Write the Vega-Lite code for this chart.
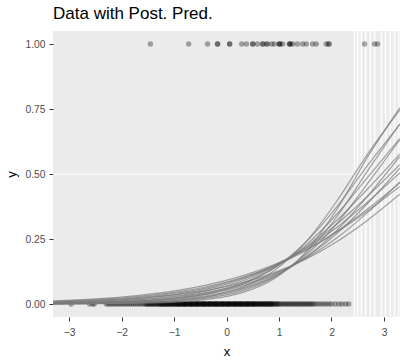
{
  "$schema": "https://vega.github.io/schema/vega-lite/v6.json",
  "width": 347,
  "height": 286,
  "autosize": {"type": "none"},
  "padding": {"left": 53, "top": 31, "right": 8, "bottom": 43},
  "background": "white",
  "config": {
    "view": {"fill": "#ebebeb", "stroke": null},
    "axis": {
      "grid": false, "domain": false, "tickColor": "#333333", "tickSize": 4,
      "labelColor": "#4d4d4d", "labelFont": "Liberation Sans", "labelFontSize": 10.3,
      "titleFont": "Liberation Sans", "titleFontSize": 13, "titleFontWeight": "normal", "titleColor": "black"
    }
  },
  "title": {"text": "Data with Post. Pred.", "anchor": "start", "frame": "group", "font": "Liberation Sans", "fontSize": 17, "fontWeight": "normal", "color": "black", "offset": 8},
  "datasets": {
    "hline": [{"x": -3.305, "x2": 2.44, "y": 0.5}],
    "thr": [{"t": 2.44}, {"t": 2.50}, {"t": 2.57}, {"t": 2.65}, {"t": 2.74}, {"t": 2.82}, {"t": 2.95}, {"t": 3.03}, {"t": 3.12}, {"t": 3.20}, {"t": 3.28}],
    "curves": [
      {"c":1,"x":-3.3,"y":0.00077},{"c":1,"x":-2.5,"y":0.00208},{"c":1,"x":-1.7,"y":0.00562},{"c":1,"x":-0.9,"y":0.0152},{"c":1,"x":-0.3,"y":0.0315},{"c":1,"x":0.3,"y":0.0645},{"c":1,"x":0.9,"y":0.1273},{"c":1,"x":1.5,"y":0.2360},{"c":1,"x":2.1,"y":0.3953},{"c":1,"x":2.7,"y":0.5805},{"c":1,"x":3.3,"y":0.7456},
      {"c":2,"x":-3.3,"y":0.0003},{"c":2,"x":-2.5,"y":0.00091},{"c":2,"x":-1.7,"y":0.00279},{"c":2,"x":-0.9,"y":0.0085},{"c":2,"x":-0.3,"y":0.0195},{"c":2,"x":0.3,"y":0.0439},{"c":2,"x":0.9,"y":0.0962},{"c":2,"x":1.5,"y":0.1978},{"c":2,"x":2.1,"y":0.3635},{"c":2,"x":2.7,"y":0.5695},{"c":2,"x":3.3,"y":0.7540},
      {"c":3,"x":-3.3,"y":0.00157},{"c":3,"x":-2.5,"y":0.00377},{"c":3,"x":-1.7,"y":0.0090},{"c":3,"x":-0.9,"y":0.0215},{"c":3,"x":-0.3,"y":0.0408},{"c":3,"x":0.3,"y":0.0761},{"c":3,"x":0.9,"y":0.1374},{"c":3,"x":1.5,"y":0.2356},{"c":3,"x":2.1,"y":0.3736},{"c":3,"x":2.7,"y":0.5357},{"c":3,"x":3.3,"y":0.6906},
      {"c":4,"x":-3.3,"y":0.00059},{"c":4,"x":-2.5,"y":0.0016},{"c":4,"x":-1.7,"y":0.00433},{"c":4,"x":-0.9,"y":0.0117},{"c":4,"x":-0.3,"y":0.0244},{"c":4,"x":0.3,"y":0.0503},{"c":4,"x":0.9,"y":0.1009},{"c":4,"x":1.5,"y":0.1919},{"c":4,"x":2.1,"y":0.3346},{"c":4,"x":2.7,"y":0.5156},{"c":4,"x":3.3,"y":0.6927},
      {"c":5,"x":-3.3,"y":0.00238},{"c":5,"x":-2.5,"y":0.00527},{"c":5,"x":-1.7,"y":0.0117},{"c":5,"x":-0.9,"y":0.0256},{"c":5,"x":-0.3,"y":0.0456},{"c":5,"x":0.3,"y":0.0802},{"c":5,"x":0.9,"y":0.1370},{"c":5,"x":1.5,"y":0.2244},{"c":5,"x":2.1,"y":0.3452},{"c":5,"x":2.7,"y":0.4900},{"c":5,"x":3.3,"y":0.6365},
      {"c":6,"x":-3.3,"y":0.00105},{"c":6,"x":-2.5,"y":0.00258},{"c":6,"x":-1.7,"y":0.00629},{"c":6,"x":-0.9,"y":0.0153},{"c":6,"x":-0.3,"y":0.0295},{"c":6,"x":0.3,"y":0.0561},{"c":6,"x":0.9,"y":0.1043},{"c":6,"x":1.5,"y":0.1857},{"c":6,"x":2.1,"y":0.3087},{"c":6,"x":2.7,"y":0.4666},{"c":6,"x":3.3,"y":0.6313},
      {"c":7,"x":-3.3,"y":0.00407},{"c":7,"x":-2.5,"y":0.0082},{"c":7,"x":-1.7,"y":0.0164},{"c":7,"x":-0.9,"y":0.0327},{"c":7,"x":-0.3,"y":0.0542},{"c":7,"x":0.3,"y":0.0885},{"c":7,"x":0.9,"y":0.1414},{"c":7,"x":1.5,"y":0.2182},{"c":7,"x":2.1,"y":0.3212},{"c":7,"x":2.7,"y":0.4452},{"c":7,"x":3.3,"y":0.5764},
      {"c":8,"x":-3.3,"y":0.00178},{"c":8,"x":-2.5,"y":0.00395},{"c":8,"x":-1.7,"y":0.0087},{"c":8,"x":-0.9,"y":0.0193},{"c":8,"x":-0.3,"y":0.0346},{"c":8,"x":0.3,"y":0.0612},{"c":8,"x":0.9,"y":0.1062},{"c":8,"x":1.5,"y":0.1780},{"c":8,"x":2.1,"y":0.2829},{"c":8,"x":2.7,"y":0.4182},{"c":8,"x":3.3,"y":0.5671},
      {"c":9,"x":-3.3,"y":0.00585},{"c":9,"x":-2.5,"y":0.0110},{"c":9,"x":-1.7,"y":0.0207},{"c":9,"x":-0.9,"y":0.0386},{"c":9,"x":-0.3,"y":0.0609},{"c":9,"x":0.3,"y":0.0948},{"c":9,"x":0.9,"y":0.1448},{"c":9,"x":1.5,"y":0.2148},{"c":9,"x":2.1,"y":0.3066},{"c":9,"x":2.7,"y":0.4168},{"c":9,"x":3.3,"y":0.5359},
      {"c":10,"x":-3.3,"y":0.00287},{"c":10,"x":-2.5,"y":0.00588},{"c":10,"x":-1.7,"y":0.0120},{"c":10,"x":-0.9,"y":0.0244},{"c":10,"x":-0.3,"y":0.0411},{"c":10,"x":0.3,"y":0.0685},{"c":10,"x":0.9,"y":0.1120},{"c":10,"x":1.5,"y":0.1780},{"c":10,"x":2.1,"y":0.2709},{"c":10,"x":2.7,"y":0.3894},{"c":10,"x":3.3,"y":0.5225},
      {"c":11,"x":-3.3,"y":0.00762},{"c":11,"x":-2.5,"y":0.0137},{"c":11,"x":-1.7,"y":0.0245},{"c":11,"x":-0.9,"y":0.0434},{"c":11,"x":-0.3,"y":0.0660},{"c":11,"x":0.3,"y":0.0993},{"c":11,"x":0.9,"y":0.1467},{"c":11,"x":1.5,"y":0.2113},{"c":11,"x":2.1,"y":0.2946},{"c":11,"x":2.7,"y":0.3944},{"c":11,"x":3.3,"y":0.5037},
      {"c":12,"x":-3.3,"y":0.00450},{"c":12,"x":-2.5,"y":0.0085},{"c":12,"x":-1.7,"y":0.0160},{"c":12,"x":-0.9,"y":0.0299},{"c":12,"x":-0.3,"y":0.0474},{"c":12,"x":0.3,"y":0.0745},{"c":12,"x":0.9,"y":0.1151},{"c":12,"x":1.5,"y":0.1737},{"c":12,"x":2.1,"y":0.2535},{"c":12,"x":2.7,"y":0.3543},{"c":12,"x":3.3,"y":0.4700},
      {"c":13,"x":-3.3,"y":0.0119},{"c":13,"x":-2.5,"y":0.0198},{"c":13,"x":-1.7,"y":0.0325},{"c":13,"x":-0.9,"y":0.0532},{"c":13,"x":-0.3,"y":0.0762},{"c":13,"x":0.3,"y":0.1079},{"c":13,"x":0.9,"y":0.1509},{"c":13,"x":1.5,"y":0.2069},{"c":13,"x":2.1,"y":0.2769},{"c":13,"x":2.7,"y":0.3598},{"c":13,"x":3.3,"y":0.4521},
      {"c":14,"x":-3.3,"y":0.00714},{"c":14,"x":-2.5,"y":0.0124},{"c":14,"x":-1.7,"y":0.0216},{"c":14,"x":-0.9,"y":0.0371},{"c":14,"x":-0.3,"y":0.0555},{"c":14,"x":0.3,"y":0.0820},{"c":14,"x":0.9,"y":0.1197},{"c":14,"x":1.5,"y":0.1715},{"c":14,"x":2.1,"y":0.2396},{"c":14,"x":2.7,"y":0.3241},{"c":14,"x":3.3,"y":0.4219},
      {"c":15,"x":-3.3,"y":0.0097},{"c":15,"x":-2.5,"y":0.0166},{"c":15,"x":-1.7,"y":0.0283},{"c":15,"x":-0.9,"y":0.0478},{"c":15,"x":-0.3,"y":0.0702},{"c":15,"x":0.3,"y":0.1019},{"c":15,"x":0.9,"y":0.1458},{"c":15,"x":1.5,"y":0.2042},{"c":15,"x":2.1,"y":0.2785},{"c":15,"x":2.7,"y":0.3673},{"c":15,"x":3.3,"y":0.4660}
    ],
    "pts": [
      {"x":-1.45,"y":1},{"x":-0.72,"y":1},{"x":-0.36,"y":1},{"x":-0.17,"y":1},{"x":-0.17,"y":1},{"x":0.06,"y":1},{"x":0.06,"y":1},{"x":0.29,"y":1},{"x":0.38,"y":1},{"x":0.50,"y":1},{"x":0.50,"y":1},{"x":0.59,"y":1},{"x":0.69,"y":1},{"x":0.69,"y":1},{"x":0.76,"y":1},{"x":0.78,"y":1},{"x":0.86,"y":1},{"x":0.91,"y":1},{"x":1.00,"y":1},{"x":1.01,"y":1},{"x":1.02,"y":1},{"x":1.07,"y":1},{"x":1.20,"y":1},{"x":1.20,"y":1},{"x":1.22,"y":1},{"x":1.26,"y":1},{"x":1.35,"y":1},{"x":1.45,"y":1},{"x":1.52,"y":1},{"x":1.64,"y":1},{"x":1.71,"y":1},{"x":1.90,"y":1},{"x":1.94,"y":1},{"x":1.96,"y":1},{"x":2.63,"y":1},{"x":2.82,"y":1},{"x":2.88,"y":1},
      {"x":-2.96,"y":0},{"x":-2.61,"y":0},{"x":-2.55,"y":0},{"x":-2.52,"y":0},
      {"x":-2.29,"y":0},{"x":-2.25,"y":0},{"x":-2.21,"y":0},{"x":-2.17,"y":0},{"x":-2.13,"y":0},{"x":-2.09,"y":0},{"x":-2.05,"y":0},{"x":-2.01,"y":0},{"x":-1.97,"y":0},{"x":-1.93,"y":0},{"x":-1.89,"y":0},{"x":-1.85,"y":0},{"x":-1.81,"y":0},{"x":-1.77,"y":0},{"x":-1.73,"y":0},{"x":-1.69,"y":0},{"x":-1.65,"y":0},{"x":-1.61,"y":0},{"x":-1.57,"y":0},
      {"x":-1.54,"y":0},{"x":-1.52,"y":0},{"x":-1.50,"y":0},{"x":-1.48,"y":0},{"x":-1.46,"y":0},{"x":-1.44,"y":0},{"x":-1.42,"y":0},{"x":-1.40,"y":0},{"x":-1.38,"y":0},{"x":-1.36,"y":0},{"x":-1.34,"y":0},{"x":-1.32,"y":0},{"x":-1.30,"y":0},{"x":-1.28,"y":0},{"x":-1.26,"y":0},{"x":-1.24,"y":0},{"x":-1.22,"y":0},{"x":-1.20,"y":0},{"x":-1.18,"y":0},{"x":-1.16,"y":0},{"x":-1.14,"y":0},{"x":-1.12,"y":0},{"x":-1.10,"y":0},{"x":-1.08,"y":0},{"x":-1.06,"y":0},{"x":-1.04,"y":0},{"x":-1.02,"y":0},{"x":-1.00,"y":0},
      {"x":-0.98,"y":0},{"x":-0.96,"y":0},{"x":-0.94,"y":0},{"x":-0.92,"y":0},{"x":-0.90,"y":0},{"x":-0.88,"y":0},{"x":-0.86,"y":0},{"x":-0.84,"y":0},{"x":-0.82,"y":0},{"x":-0.80,"y":0},{"x":-0.78,"y":0},{"x":-0.76,"y":0},{"x":-0.74,"y":0},{"x":-0.72,"y":0},{"x":-0.70,"y":0},{"x":-0.68,"y":0},{"x":-0.66,"y":0},{"x":-0.64,"y":0},{"x":-0.62,"y":0},{"x":-0.60,"y":0},{"x":-0.58,"y":0},{"x":-0.56,"y":0},{"x":-0.54,"y":0},{"x":-0.52,"y":0},{"x":-0.50,"y":0},
      {"x":-0.48,"y":0},{"x":-0.46,"y":0},{"x":-0.44,"y":0},{"x":-0.42,"y":0},{"x":-0.40,"y":0},{"x":-0.38,"y":0},{"x":-0.36,"y":0},{"x":-0.34,"y":0},{"x":-0.32,"y":0},{"x":-0.30,"y":0},{"x":-0.28,"y":0},{"x":-0.26,"y":0},{"x":-0.24,"y":0},{"x":-0.22,"y":0},{"x":-0.20,"y":0},{"x":-0.18,"y":0},{"x":-0.16,"y":0},{"x":-0.14,"y":0},{"x":-0.12,"y":0},{"x":-0.10,"y":0},{"x":-0.08,"y":0},{"x":-0.06,"y":0},{"x":-0.04,"y":0},{"x":-0.02,"y":0},{"x":0.00,"y":0},
      {"x":0.02,"y":0},{"x":0.04,"y":0},{"x":0.06,"y":0},{"x":0.08,"y":0},{"x":0.10,"y":0},{"x":0.12,"y":0},{"x":0.14,"y":0},{"x":0.16,"y":0},{"x":0.18,"y":0},{"x":0.20,"y":0},{"x":0.22,"y":0},{"x":0.24,"y":0},{"x":0.26,"y":0},{"x":0.28,"y":0},{"x":0.30,"y":0},{"x":0.32,"y":0},{"x":0.34,"y":0},{"x":0.36,"y":0},{"x":0.38,"y":0},{"x":0.40,"y":0},{"x":0.42,"y":0},{"x":0.44,"y":0},{"x":0.46,"y":0},{"x":0.48,"y":0},{"x":0.50,"y":0},
      {"x":0.52,"y":0},{"x":0.54,"y":0},{"x":0.56,"y":0},{"x":0.58,"y":0},{"x":0.60,"y":0},{"x":0.62,"y":0},{"x":0.64,"y":0},{"x":0.66,"y":0},{"x":0.68,"y":0},{"x":0.70,"y":0},{"x":0.72,"y":0},{"x":0.74,"y":0},{"x":0.76,"y":0},{"x":0.78,"y":0},{"x":0.80,"y":0},{"x":0.82,"y":0},{"x":0.84,"y":0},{"x":0.86,"y":0},{"x":0.88,"y":0},{"x":0.90,"y":0},{"x":0.92,"y":0},{"x":0.94,"y":0},{"x":0.96,"y":0},{"x":0.98,"y":0},{"x":1.00,"y":0},
      {"x":-1.25,"y":0},{"x":-1.19,"y":0},{"x":-1.13,"y":0},{"x":-1.07,"y":0},{"x":-1.01,"y":0},{"x":-0.95,"y":0},{"x":-0.89,"y":0},{"x":-0.83,"y":0},{"x":-0.77,"y":0},{"x":-0.71,"y":0},{"x":-0.65,"y":0},{"x":-0.59,"y":0},{"x":-0.53,"y":0},{"x":-0.47,"y":0},{"x":-0.41,"y":0},{"x":-0.35,"y":0},{"x":-0.29,"y":0},{"x":-0.23,"y":0},{"x":-0.17,"y":0},{"x":-0.11,"y":0},{"x":-0.05,"y":0},{"x":0.01,"y":0},{"x":0.07,"y":0},{"x":0.13,"y":0},{"x":0.19,"y":0},{"x":0.25,"y":0},{"x":0.31,"y":0},{"x":0.37,"y":0},{"x":0.43,"y":0},{"x":0.49,"y":0},{"x":0.55,"y":0},{"x":0.61,"y":0},{"x":0.67,"y":0},{"x":0.73,"y":0},{"x":0.79,"y":0},{"x":0.85,"y":0},
      {"x":-0.92,"y":0},{"x":-0.80,"y":0},{"x":-0.68,"y":0},{"x":-0.56,"y":0},{"x":-0.44,"y":0},{"x":-0.32,"y":0},{"x":-0.20,"y":0},{"x":-0.08,"y":0},{"x":0.04,"y":0},{"x":0.16,"y":0},{"x":0.28,"y":0},{"x":0.40,"y":0},{"x":0.52,"y":0},
      {"x":1.03,"y":0},{"x":1.06,"y":0},{"x":1.09,"y":0},{"x":1.12,"y":0},{"x":1.15,"y":0},{"x":1.18,"y":0},{"x":1.21,"y":0},{"x":1.24,"y":0},{"x":1.27,"y":0},{"x":1.30,"y":0},{"x":1.33,"y":0},{"x":1.36,"y":0},{"x":1.39,"y":0},{"x":1.42,"y":0},{"x":1.45,"y":0},{"x":1.48,"y":0},{"x":1.51,"y":0},{"x":1.54,"y":0},{"x":1.57,"y":0},{"x":1.60,"y":0},{"x":1.63,"y":0},{"x":1.66,"y":0},
      {"x":1.70,"y":0},{"x":1.75,"y":0},{"x":1.80,"y":0},{"x":1.85,"y":0},{"x":1.90,"y":0},{"x":1.95,"y":0},{"x":2.00,"y":0},
      {"x":2.07,"y":0},{"x":2.14,"y":0},{"x":2.20,"y":0},{"x":2.27,"y":0},{"x":2.33,"y":0}
    ]
  },
  "layer": [
    {
      "data": {"name": "hline"},
      "mark": {"type": "rule", "color": "white", "strokeWidth": 1.2},
      "encoding": {
        "x": {"field": "x", "type": "quantitative", "scale": {"domain": [-3.305, 3.305], "nice": false, "zero": false},
              "axis": {"values": [-3, -2, -1, 0, 1, 2, 3], "title": "x", "labelPadding": 6, "titlePadding": 8}},
        "x2": {"field": "x2"},
        "y": {"field": "y", "type": "quantitative", "scale": {"domain": [-0.05, 1.05], "nice": false, "zero": false},
              "axis": {"values": [0, 0.25, 0.5, 0.75, 1], "format": ".2f", "title": "y", "labelPadding": 4, "titlePadding": 6}}
      }
    },
    {
      "data": {"name": "thr"},
      "mark": {"type": "rule", "color": "white", "strokeWidth": 1.5, "opacity": 0.85, "clip": true},
      "encoding": {
        "x": {"field": "t", "type": "quantitative", "scale": {"domain": [-3.305, 3.305], "nice": false, "zero": false}}
      }
    },
    {
      "data": {"name": "pts"},
      "mark": {"type": "point", "filled": true, "color": "black", "opacity": 0.33, "size": 30, "clip": true},
      "encoding": {
        "x": {"field": "x", "type": "quantitative", "scale": {"domain": [-3.305, 3.305], "nice": false, "zero": false}},
        "y": {"field": "y", "type": "quantitative", "scale": {"domain": [-0.05, 1.05], "nice": false, "zero": false}}
      }
    },
    {
      "data": {"name": "curves"},
      "mark": {"type": "line", "interpolate": "monotone", "color": "#7a7a7a", "strokeWidth": 1.2, "opacity": 0.7, "clip": true},
      "encoding": {
        "x": {"field": "x", "type": "quantitative", "scale": {"domain": [-3.305, 3.305], "nice": false, "zero": false}},
        "y": {"field": "y", "type": "quantitative", "scale": {"domain": [-0.05, 1.05], "nice": false, "zero": false}},
        "detail": {"field": "c", "type": "nominal"}
      }
    }
  ]
}
